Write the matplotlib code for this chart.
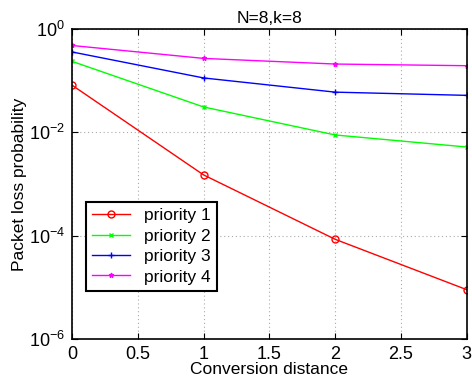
import numpy as np
import matplotlib.pyplot as plt

plt.rcParams['font.family'] = ['Liberation Sans', 'DejaVu Sans']

# distance de conversion
distance = [0, 1, 2, 3]
# probabilite de perte par priorite
p1 = [0.082, 1.5e-3, 8.5e-5, 9e-6]
p2 = [0.237, 0.031, 0.0089, 0.0052]
p3 = [0.36, 0.113, 0.06, 0.052]
p4 = [0.48, 0.27, 0.21, 0.195]
labels = ['priority 1', 'priority 2', 'priority 3', 'priority 4']

fig = plt.figure(figsize=(4.72, 3.77), dpi=100)
ax = fig.add_axes([0.1525, 0.1008, 0.8365, 0.8222])

ax.semilogy(distance, p1, color='red', marker='o', mfc='none', ms=5, lw=1, label=labels[0])
ax.semilogy(distance, p2, color='#00ff00', marker='x', ms=3, lw=1, label=labels[1])
ax.semilogy(distance, p3, color='blue', marker='+', ms=5, lw=1, label=labels[2])
ax.semilogy(distance, p4, color='magenta', marker='*', ms=3.5, lw=1, label=labels[3])

ax.set_xlim(0, 3)
ax.set_ylim(1e-6, 1)
ax.set_xticks(np.arange(0, 3.01, 0.5))
ax.set_xticklabels(['0', '0.5', '1', '1.5', '2', '2.5', '3'])
ax.set_yticks([1e-6, 1e-4, 1e-2, 1])
ax.yaxis.set_minor_locator(plt.NullLocator())
ax.tick_params(direction='in', labelsize=13, length=4, top=True, right=True, pad=5)
ax.grid(True, linestyle=(0, (1, 2.5)), color='#aaaaaa', lw=0.8)
for s in ax.spines.values():
    s.set_linewidth(1.2)

ax.set_title('N=8,k=8', fontsize=12.5, pad=4)
ax.set_xlabel('Conversion distance', fontsize=12.5, labelpad=-1)
ax.set_ylabel('Packet loss probability', fontsize=12.5, labelpad=1)

leg = ax.legend(loc='lower left', bbox_to_anchor=(0.035, 0.156), fontsize=12.5,
                fancybox=False, framealpha=1, edgecolor='black', borderaxespad=0,
                handlelength=2.2, borderpad=0.35, labelspacing=0.3, handletextpad=0.8)
leg.get_frame().set_linewidth(1.5)

fig.savefig('out.png', dpi=100)
